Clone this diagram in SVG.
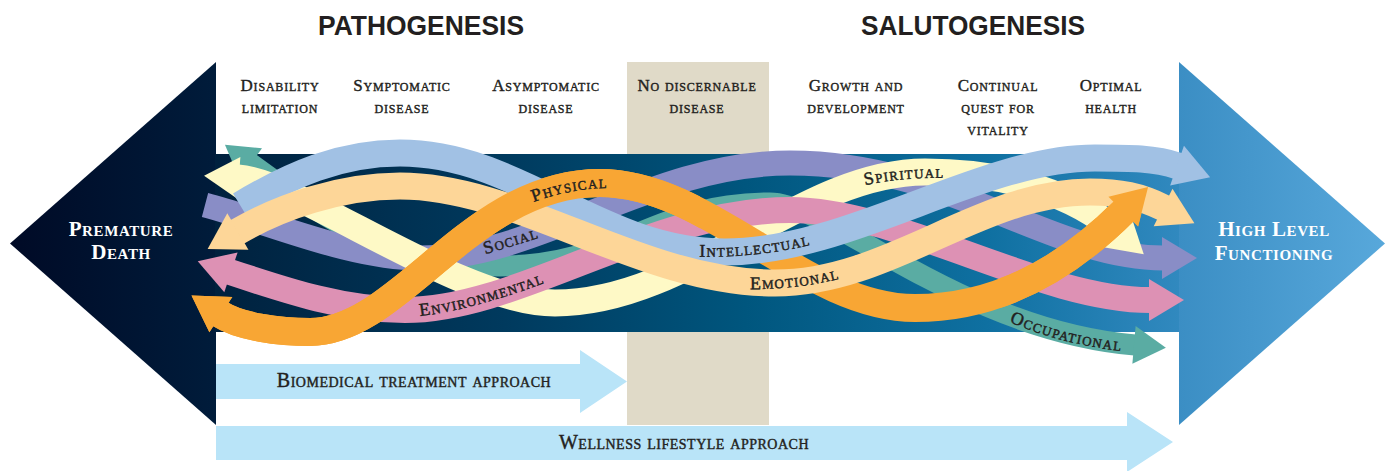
<svg xmlns="http://www.w3.org/2000/svg" width="1388" height="471" viewBox="0 0 1388 471">
<style>
.hdr{font-family:"Liberation Sans",Arial,sans-serif;font-weight:bold;font-size:27px;fill:#231f20;text-anchor:middle}
.stage{font-family:"Liberation Serif","Times New Roman",serif;font-variant:small-caps;font-size:17px;letter-spacing:0.8px;fill:#231f20;stroke:#231f20;stroke-width:0.4px;text-anchor:middle}
.end{font-family:"Liberation Serif","Times New Roman",serif;font-variant:small-caps;font-weight:bold;font-size:21px;letter-spacing:0.6px;fill:#ffffff;text-anchor:middle}
.rib{fill:none;stroke-linecap:butt}
.rlab{font-family:"Liberation Serif","Times New Roman",serif;font-variant:small-caps;font-size:18px;letter-spacing:1.2px;fill:#231f20;stroke:#231f20;stroke-width:0.45px;text-anchor:middle}
.appr{font-family:"Liberation Serif","Times New Roman",serif;font-variant:small-caps;font-size:20px;letter-spacing:0.5px;fill:#231f20;stroke:#231f20;stroke-width:0.4px;text-anchor:middle}
.apbar{fill:#b9e4f8}
</style>
<defs>
<linearGradient id="gLeft" gradientUnits="userSpaceOnUse" x1="10" y1="0" x2="216" y2="0"><stop offset="0" stop-color="#000a26"/><stop offset="1" stop-color="#001c3b"/></linearGradient>
<linearGradient id="gBand" gradientUnits="userSpaceOnUse" x1="216" y1="0" x2="1179" y2="0"><stop offset="0" stop-color="#00213e"/><stop offset="0.3" stop-color="#003a5e"/><stop offset="0.55" stop-color="#00567e"/><stop offset="0.8" stop-color="#0f70a1"/><stop offset="1" stop-color="#3189bf"/></linearGradient>
<linearGradient id="gRight" gradientUnits="userSpaceOnUse" x1="1179" y1="0" x2="1385" y2="0"><stop offset="0" stop-color="#3b8ec4"/><stop offset="1" stop-color="#58a8db"/></linearGradient>
<marker id="h-teal" markerUnits="userSpaceOnUse" orient="auto-start-reverse" refX="0" refY="0" markerWidth="34" markerHeight="40" overflow="visible"><path d="M-1,-19L31,0L-1,19Z" fill="#5aaca3"/></marker>
<marker id="h-yellow" markerUnits="userSpaceOnUse" orient="auto-start-reverse" refX="0" refY="0" markerWidth="36" markerHeight="44" overflow="visible"><path d="M-1,-21L34,0L-1,21Z" fill="#fef9c6"/></marker>
<marker id="h-purple" markerUnits="userSpaceOnUse" orient="auto-start-reverse" refX="0" refY="0" markerWidth="36" markerHeight="44" overflow="visible"><path d="M-1,-21L34,0L-1,21Z" fill="#898dc6"/></marker>
<marker id="h-pink" markerUnits="userSpaceOnUse" orient="auto-start-reverse" refX="0" refY="0" markerWidth="36" markerHeight="44" overflow="visible"><path d="M-1,-21L34,0L-1,21Z" fill="#dd91b4"/></marker>
<marker id="h-orange" markerUnits="userSpaceOnUse" orient="auto-start-reverse" refX="0" refY="0" markerWidth="36" markerHeight="44" overflow="visible"><path d="M-1,-21L34,0L-1,21Z" fill="#f8a634"/></marker>
<marker id="h-blue" markerUnits="userSpaceOnUse" orient="auto-start-reverse" refX="0" refY="0" markerWidth="36" markerHeight="44" overflow="visible"><path d="M-1,-21L34,0L-1,21Z" fill="#a1c1e4"/></marker>
<marker id="h-peach" markerUnits="userSpaceOnUse" orient="auto-start-reverse" refX="0" refY="0" markerWidth="36" markerHeight="44" overflow="visible"><path d="M-1,-21L34,0L-1,21Z" fill="#fdd698"/></marker>
<clipPath id="clipOrange"><rect x="0" y="0" width="700" height="471"/><rect x="1000" y="0" width="388" height="471"/></clipPath>
<path id="lp-physical" d="M526,205 Q570,187 616,188"/>
<path id="lp-social" d="M460,262 L565,230"/>
<path id="lp-intellectual" d="M680,256 C730,259 780,254 830,240"/>
<path id="lp-emotional" d="M740,289 C775,290 810,287 850,276"/>
<path id="lp-spiritual" d="M858,187 C885,180 915,177 952,178"/>
<path id="lp-environmental" d="M410,317 C450,314 500,300 555,279"/>
<path id="lp-occupational" d="M1000,318 C1040,336 1085,348 1132,352"/>
</defs>

<g id="headers">
<text class="hdr" x="421" y="35" textLength="206" lengthAdjust="spacingAndGlyphs">PATHOGENESIS</text>
<text class="hdr" x="973" y="35" textLength="224" lengthAdjust="spacingAndGlyphs">SALUTOGENESIS</text>
</g>

<g id="no-disease-zone">
<rect x="627" y="62" width="142" height="363" fill="#e0dac8"/>
</g>

<g id="node-premature-death">
<polygon points="216,62 10,243.5 216,425" fill="url(#gLeft)"/>
<text class="end" x="121" y="236">Premature</text>
<text class="end" x="121" y="259">Death</text>
</g>

<g id="node-continuum">
<rect x="215" y="154" width="965" height="178" fill="url(#gBand)"/>
</g>

<g id="node-high-level-functioning">
<polygon points="1179,62 1385,243.5 1179,425" fill="url(#gRight)"/>
<text class="end" x="1274" y="236">High Level</text>
<text class="end" x="1274" y="260">Functioning</text>
</g>

<g id="stage-disability"><text class="stage" x="280" y="90.7">Disability<tspan x="280" dy="22">limitation</tspan></text></g>
<g id="stage-symptomatic"><text class="stage" x="402" y="90.7">Symptomatic<tspan x="402" dy="22">disease</tspan></text></g>
<g id="stage-asymptomatic"><text class="stage" x="546" y="90.7">Asymptomatic<tspan x="546" dy="22">disease</tspan></text></g>
<g id="stage-no-discernable"><text class="stage" x="697" y="90.7">No discernable<tspan x="697" dy="22">disease</tspan></text></g>
<g id="stage-growth"><text class="stage" x="856" y="90.7">Growth and<tspan x="856" dy="22">development</tspan></text></g>
<g id="stage-continual"><text class="stage" x="998" y="90.7">Continual<tspan x="998" dy="22">quest for</tspan><tspan x="998" dy="22">vitality</tspan></text></g>
<g id="stage-optimal"><text class="stage" x="1111" y="90.7">Optimal<tspan x="1111" dy="22">health</tspan></text></g>

<g id="connectors">
<path id="r-occupational" class="rib" stroke="#5aaca3" stroke-width="21" marker-start="url(#h-teal)" marker-end="url(#h-teal)" d="M250,163 C331,222 390,266 500,266 C620,266 650,203 770,203 C830,203 960,330 1135,345"/>
<path id="r-social" class="rib" stroke="#898dc6" stroke-width="25" marker-end="url(#h-purple)" d="M205,205 C270,222 350,258 420,258 C540,258 650,163 790,163 C950,163 1050,258 1163,258"/>
<path id="r-spiritual" class="rib" stroke="#fef9c6" stroke-width="27" marker-start="url(#h-yellow)" marker-end="url(#h-yellow)" d="M238,178 C300,182 460,303 555,303 C690,303 800,172 925,172 C1010,172 1075,195 1118,232"/>
<path id="r-environmental" class="rib" stroke="#dd91b4" stroke-width="26" marker-start="url(#h-pink)" marker-end="url(#h-pink)" d="M230,272 C290,292 345,310 405,310 C520,310 650,210 790,210 C900,210 1040,300 1150,300"/>
<path id="r-physical" class="rib" fill="none" stroke="#f8a634" stroke-width="28" marker-start="url(#h-orange)" marker-end="url(#h-orange)" d="M220,314 C240,327 280,332 310,332 C400,332 470,183 600,183 C710,183 805,308 915,308 C1000,308 1070,265 1124,211"/>
<path id="r-intellectual" class="rib" stroke="#a1c1e4" stroke-width="27" marker-end="url(#h-blue)" d="M240,205 C290,175 340,153 400,153 C520,153 600,252 725,252 C850,252 980,158 1095,158 C1130,158 1155,158 1178,166"/>
<path id="r-emotional" class="rib" stroke="#fdd698" stroke-width="27" marker-start="url(#h-peach)" marker-end="url(#h-peach)" d="M237,232 C280,207 340,186 400,186 C520,186 640,283 775,283 C890,283 980,192 1090,192 C1120,192 1140,196 1164,208"/>
<use href="#r-physical" clip-path="url(#clipOrange)"/>
</g>

<g id="connector-labels">
<text class="rlab"><textPath href="#lp-physical" startOffset="50%">Physical</textPath></text>
<text class="rlab"><textPath href="#lp-social" startOffset="50%">Social</textPath></text>
<text class="rlab"><textPath href="#lp-intellectual" startOffset="50%">Intellectual</textPath></text>
<text class="rlab"><textPath href="#lp-emotional" startOffset="50%">Emotional</textPath></text>
<text class="rlab"><textPath href="#lp-spiritual" startOffset="50%">Spiritual</textPath></text>
<text class="rlab"><textPath href="#lp-environmental" startOffset="50%">Environmental</textPath></text>
<text class="rlab"><textPath href="#lp-occupational" startOffset="50%">Occupational</textPath></text>
</g>

<g id="approach-biomedical">
<polygon class="apbar" points="216,364 580,364 580,350 627,381.5 580,413 580,399 216,399"/>
<text class="appr" x="414" y="387">Biomedical treatment approach</text>
</g>

<g id="approach-wellness">
<polygon class="apbar" points="216,426 1127,426 1127,412 1173,442 1127,472 1127,460 216,460"/>
<text class="appr" x="684" y="449">Wellness lifestyle approach</text>
</g>
</svg>
